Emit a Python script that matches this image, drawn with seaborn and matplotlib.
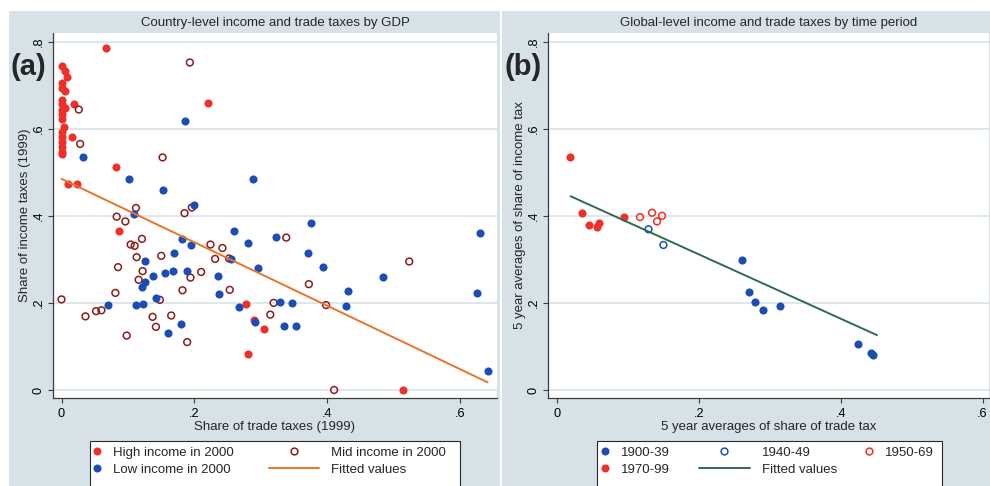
import numpy as np
import seaborn as sns
import matplotlib
matplotlib.use("Agg")
import matplotlib.pyplot as plt
from matplotlib.lines import Line2D
from matplotlib.patches import Rectangle
from matplotlib.legend import Legend
from matplotlib.legend_handler import HandlerLine2D

# ---------------------------------------------------------------- data
# (a) country level, 1999: share of trade taxes vs share of income taxes
high_trade = [0.0665, 0.000, 0.006, 0.008, 0.000, 0.000, 0.006, 0.000, 0.000, 0.006,
              0.000, 0.000, 0.000, 0.004, 0.000, 0.000, 0.016, 0.000, 0.000, 0.000,
              0.000, 0.019, 0.221, 0.082, 0.010, 0.023, 0.086, 0.278, 0.289, 0.305,
              0.281, 0.513]
high_income = [0.786, 0.745, 0.732, 0.719, 0.704, 0.694, 0.687, 0.666, 0.657, 0.648,
               0.643, 0.633, 0.622, 0.605, 0.593, 0.582, 0.582, 0.570, 0.559, 0.547,
               0.541, 0.657, 0.660, 0.513, 0.472, 0.474, 0.365, 0.197, 0.160, 0.140,
               0.083, 0.000]

mid_trade = [0.026, 0.193, 0.028, 0.152, 0.196, 0.112, 0.185, 0.083, 0.096, 0.121,
             0.104, 0.110, 0.224, 0.242, 0.150, 0.113, 0.231, 0.252, 0.085, 0.122,
             0.210, 0.194, 0.116, 0.182, 0.253, 0.081, 0.148, 0.000, 0.060, 0.052,
             0.036, 0.137, 0.165, 0.142, 0.098, 0.189, 0.338, 0.523, 0.372, 0.319,
             0.398, 0.314, 0.410]
mid_income = [0.644, 0.752, 0.565, 0.534, 0.419, 0.418, 0.406, 0.398, 0.387, 0.347,
              0.334, 0.331, 0.334, 0.326, 0.308, 0.305, 0.301, 0.302, 0.282, 0.273,
              0.271, 0.258, 0.253, 0.229, 0.230, 0.223, 0.207, 0.208, 0.183, 0.181,
              0.169, 0.168, 0.171, 0.145, 0.125, 0.110, 0.350, 0.295, 0.243, 0.200,
              0.195, 0.173, 0.000]

low_trade = [0.186, 0.033, 0.102, 0.152, 0.288, 0.200, 0.109, 0.260, 0.181, 0.195,
             0.281, 0.169, 0.255, 0.126, 0.167, 0.189, 0.156, 0.138, 0.235, 0.126,
             0.121, 0.237, 0.142, 0.070, 0.112, 0.122, 0.267, 0.180, 0.160, 0.375,
             0.322, 0.370, 0.629, 0.296, 0.394, 0.484, 0.431, 0.625, 0.328, 0.347,
             0.428, 0.291, 0.334, 0.353, 0.641]
low_income = [0.618, 0.536, 0.484, 0.460, 0.484, 0.425, 0.405, 0.364, 0.347, 0.334,
              0.337, 0.315, 0.301, 0.297, 0.274, 0.274, 0.269, 0.262, 0.262, 0.248,
              0.236, 0.220, 0.211, 0.196, 0.196, 0.197, 0.190, 0.151, 0.130, 0.383,
              0.351, 0.315, 0.361, 0.281, 0.282, 0.260, 0.227, 0.223, 0.201, 0.200,
              0.193, 0.155, 0.148, 0.148, 0.044]

# (b) global level, 5-year averages by period
p1900_trade = [0.261, 0.270, 0.279, 0.291, 0.314, 0.425, 0.443, 0.445]
p1900_income = [0.298, 0.224, 0.2025, 0.183, 0.193, 0.105, 0.084, 0.080]
p1940_trade = [0.129, 0.150]
p1940_income = [0.369, 0.333]
p1950_trade = [0.117, 0.134, 0.141, 0.148]
p1950_income = [0.397, 0.407, 0.387, 0.400]
p1970_trade = [0.0187, 0.035, 0.0455, 0.057, 0.059, 0.094]
p1970_income = [0.535, 0.407, 0.378, 0.375, 0.384, 0.397]
# fitted values of the period regression, at the ends of the trade range
fit_b_trade = [0.019, 0.451]
fit_b_income = [0.445, 0.126]

x_ticks = [0, 0.2, 0.4, 0.6]
x_tick_labels = ["0", ".2", ".4", ".6"]
y_ticks = [0, 0.2, 0.4, 0.6, 0.8]
y_tick_labels = ["0", ".2", ".4", ".6", ".8"]

# ---------------------------------------------------------------- style
sns.set_style("white")
plt.rcParams["font.family"] = ["Liberation Sans", "DejaVu Sans"]

BG = "#d6e2e7"
GRID = "#d3e2e8"
AXIS = "#3c3c3c"
RED = "#ef2f2a"
BLUE = "#1c4db3"
MAROON = "#8a1e1e"
ORANGE = "#e8742a"
GREEN = "#2f6a4c"
FS = 9.5
TICK_FS = 9.2

W, H = 990, 486
fig = plt.figure(figsize=(W / 100, H / 100), dpi=100)
fig.patch.set_facecolor("white")


def fx(px):
    return px / W


def fy(py):
    return 1 - py / H


# graph regions behind each panel
fig.add_artist(Rectangle((fx(9), 0), fx(500) - fx(9), fy(11), transform=fig.transFigure,
                         facecolor=BG, edgecolor="none", zorder=-10))
fig.add_artist(Rectangle((fx(502), 0), fx(990) - fx(502), fy(11), transform=fig.transFigure,
                         facecolor=BG, edgecolor="none", zorder=-10))

ax_a = fig.add_axes([fx(53), fy(398), fx(497) - fx(53), fy(33) - fy(398)])
ax_b = fig.add_axes([fx(548), fy(398), fx(989) - fx(548), fy(33) - fy(398)])

FILLED = dict(s=34, linewidth=0, zorder=3)
HOLLOW = dict(s=24, facecolor="none", linewidth=1.1, zorder=3)

# ---- panel (a)
sns.scatterplot(x=high_trade, y=high_income, ax=ax_a, color=RED, **FILLED)
sns.scatterplot(x=mid_trade, y=mid_income, ax=ax_a, edgecolor=MAROON, **HOLLOW)
sns.scatterplot(x=low_trade, y=low_income, ax=ax_a, color=BLUE, **FILLED)
all_trade_a = np.array(high_trade + mid_trade + low_trade)
all_income_a = np.array(high_income + mid_income + low_income)
sns.regplot(x=all_trade_a, y=all_income_a, ax=ax_a, scatter=False, ci=None,
            truncate=True, line_kws=dict(color=ORANGE, lw=1.4, zorder=4))

# ---- panel (b)
sns.scatterplot(x=p1900_trade, y=p1900_income, ax=ax_b, color=BLUE, **FILLED)
sns.scatterplot(x=p1940_trade, y=p1940_income, ax=ax_b, edgecolor=BLUE, **HOLLOW)
sns.scatterplot(x=p1950_trade, y=p1950_income, ax=ax_b, edgecolor=RED, **HOLLOW)
sns.scatterplot(x=p1970_trade, y=p1970_income, ax=ax_b, color=RED, **FILLED)
sns.lineplot(x=fit_b_trade, y=fit_b_income, ax=ax_b, color=GREEN, lw=1.4, zorder=4)

panels = [
    (ax_a, (-0.0128, 0.655), "Country-level income and trade taxes by GDP",
     "Share of trade taxes (1999)", "Share of income taxes (1999)"),
    (ax_b, (-0.0127, 0.609), "Global-level income and trade taxes by time period",
     "5 year averages of share of trade tax", "5 year averages of share of income tax"),
]
for ax, xlim, title, xlabel, ylabel in panels:
    ax.set_facecolor("white")
    ax.set_xlim(*xlim)
    ax.set_ylim(-0.0184, 0.8197)
    ax.set_xticks(x_ticks, x_tick_labels)
    ax.set_yticks(y_ticks, y_tick_labels)
    ax.set_axisbelow(True)
    ax.yaxis.grid(True, color=GRID, lw=1.1)
    ax.xaxis.grid(False)
    for side in ("top", "right"):
        ax.spines[side].set_visible(False)
    for side in ("left", "bottom"):
        ax.spines[side].set_color(AXIS)
        ax.spines[side].set_linewidth(0.9)
    ax.tick_params(axis="both", direction="out", length=3.6, width=0.8, color=AXIS,
                   labelsize=TICK_FS, labelcolor="black", pad=3.5,
                   left=True, bottom=True)
    ax.tick_params(axis="y", labelrotation=90, pad=2.4)
    for lab in ax.get_yticklabels():
        lab.set_va("center")
    ax.set_title(title, fontsize=FS, pad=5)
    ax.set_xlabel(xlabel, fontsize=FS, labelpad=1)
    ax.set_ylabel(ylabel, fontsize=FS, labelpad=1)

fig.text(fx(28), fy(67), "(a)", fontsize=21, fontweight="bold", ha="center", va="center")
fig.text(fx(523), fy(67), "(b)", fontsize=21, fontweight="bold", ha="center", va="center")


# ---------------------------------------------------------------- legends
class WideKey(HandlerLine2D):
    """Legend key whose drawing reaches `reach` points left of its box."""

    def __init__(self, reach=0.0, **kw):
        super().__init__(**kw)
        self.reach = reach

    def get_xdata(self, legend, xdescent, ydescent, width, height, fontsize):
        x0 = -xdescent - self.reach
        x1 = -xdescent + width
        return [x0, x1], [0.5 * (x0 + x1)]


def dot(color):
    return Line2D([], [], ls="none", marker="o", markersize=5.8, markerfacecolor=color,
                  markeredgewidth=0)


def ring(color):
    return Line2D([], [], ls="none", marker="o", markersize=4.9, markerfacecolor="none",
                  markeredgecolor=color, markeredgewidth=1.1)


def fitline(color):
    return Line2D([], [], color=color, lw=1.4)


def key_column(ax, entries, x_px, y_px, reach=0.0):
    handles = [h for h, _ in entries]
    labels = [t for _, t in entries]
    leg = Legend(ax, handles, labels, loc="upper left",
                 bbox_to_anchor=(fx(x_px), fy(y_px)), bbox_transform=fig.transFigure,
                 frameon=False, borderpad=0, borderaxespad=0, handlelength=0.6,
                 handletextpad=0.9, labelspacing=0.38, fontsize=FS, numpoints=1,
                 handler_map={h: WideKey(reach) for h in handles})
    ax.add_artist(leg)


def key_frame(x0, x1, y0):
    fig.add_artist(Rectangle((fx(x0), fy(488)), fx(x1) - fx(x0), fy(y0) - fy(488),
                             transform=fig.transFigure, facecolor="white",
                             edgecolor="#2a2a2a", lw=0.8, zorder=-1))


key_frame(90, 460, 441)
key_column(ax_a, [(dot(RED), "High income in 2000"), (dot(BLUE), "Low income in 2000")],
           93, 446.5)
key_column(ax_a, [(ring(MAROON), "Mid income in 2000"), (fitline(ORANGE), "Fitted values")],
           311, 446.5, reach=30)

key_frame(597, 942, 441)
key_column(ax_b, [(dot(BLUE), "1900-39"), (dot(RED), "1970-99")], 601, 446.5)
key_column(ax_b, [(ring(BLUE), "1940-49"), (fitline(GREEN), "Fitted values")],
           742, 446.5, reach=31)
key_column(ax_b, [(ring(RED), "1950-69")], 865, 446.5)

fig.savefig("out.png", dpi=100, facecolor="white")
